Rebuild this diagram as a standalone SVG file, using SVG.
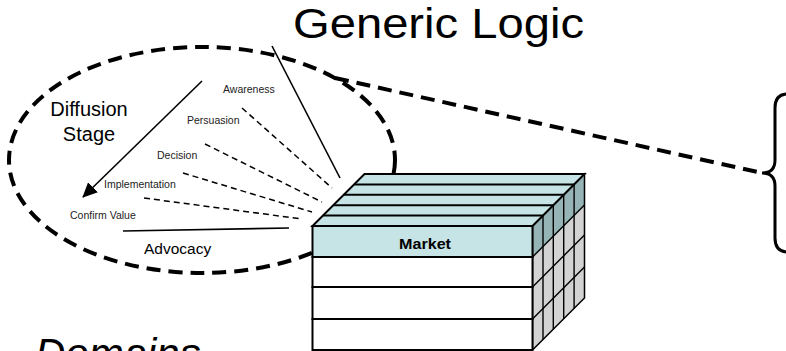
<svg xmlns="http://www.w3.org/2000/svg" width="786" height="351" viewBox="0 0 786 351">
  <defs>
    <marker id="arrowHead" viewBox="0 0 15 14" refX="14" refY="7" markerWidth="15" markerHeight="14" markerUnits="userSpaceOnUse" orient="auto">
      <path d="M0,0 L15,7 L0,14 Z" fill="#000"/>
    </marker>
  </defs>
  <style>
    text { font-family: "Liberation Sans", Arial, sans-serif; fill: #000; }
    .title { font-size: 43px; }
    .stage { font-size: 20px; }
    .step { font-size: 10.5px; fill: #222; }
    .advocacy { font-size: 15.5px; }
    .market { font-size: 14.5px; font-weight: bold; }
    .domains { font-size: 42px; font-style: italic; }
    .bigdash { fill: none; stroke: #000; stroke-width: 4; stroke-dasharray: 14 8; }
    .thindash { fill: none; stroke: #000; stroke-width: 1.5; stroke-dasharray: 6 4; }
    .solid { fill: none; stroke: #000; stroke-width: 1.6; }
    .edge { stroke: #000; stroke-width: 2; }
    .thin { stroke: #000; stroke-width: 1.4; fill: none; }
    .teal { fill: #C6E4E6; }
    .tealDark { fill: #96B4B6; }
    .grey { fill: #D3D3D3; }
  </style>

  <rect width="786" height="351" fill="#fff"/>

  <!-- Title -->
  <g id="title">
    <text class="title" x="293" y="38" textLength="291" lengthAdjust="spacingAndGlyphs">Generic Logic</text>
  </g>

  <!-- Dashed boundary of the diffusion area -->
  <g id="diffusion-area">
    <ellipse class="bigdash" cx="202" cy="160" rx="193" ry="113"/>
  </g>

  <!-- Connectors -->
  <g id="connectors">
    <line class="solid" x1="202" y1="81" x2="83" y2="197" stroke-width="2" marker-end="url(#arrowHead)"/>
    <line class="solid" x1="272" y1="46" x2="340" y2="178"/>
    <line class="thindash" x1="242" y1="108" x2="332" y2="188"/>
    <line class="thindash" x1="205" y1="144" x2="322" y2="202"/>
    <line class="thindash" x1="183" y1="173" x2="312" y2="212"/>
    <line class="thindash" x1="144" y1="198" x2="302" y2="219"/>
    <line class="solid" x1="123" y1="231" x2="289" y2="228" stroke-width="2.2"/>
    <line class="bigdash" x1="335" y1="78" x2="762" y2="173"/>
  </g>

  <!-- Stage labels -->
  <g id="stage-labels">
    <text class="stage" x="89" y="116" text-anchor="middle">Diffusion</text>
    <text class="stage" x="89" y="141" text-anchor="middle">Stage</text>
    <text class="step" x="223" y="93">Awareness</text>
    <text class="step" x="187" y="124">Persuasion</text>
    <text class="step" x="157" y="159">Decision</text>
    <text class="step" x="104" y="188">Implementation</text>
    <text class="step" x="70" y="219">Confirm Value</text>
    <text class="advocacy" x="144" y="254">Advocacy</text>
  </g>

  <!-- Market cube -->
  <g id="market-cube">
    <!-- right face -->
    <polygon class="grey" points="532.5,257 584.5,205 584.5,298 532.5,350"/>
    <polygon class="tealDark" points="532.5,226 584.5,174 584.5,205 532.5,257"/>
    <g class="thin">
      <line x1="543" y1="215.6" x2="543" y2="339.6"/>
      <line x1="553.3" y1="205.2" x2="553.3" y2="329.2"/>
      <line x1="563.7" y1="194.8" x2="563.7" y2="318.8"/>
      <line x1="574.1" y1="184.4" x2="574.1" y2="308.4"/>
      <line x1="532.5" y1="257" x2="584.5" y2="205"/>
      <line x1="532.5" y1="287" x2="584.5" y2="235"/>
      <line x1="532.5" y1="319" x2="584.5" y2="267"/>
    </g>
    <polygon points="532.5,226 584.5,174 584.5,298 532.5,350" fill="none" stroke="#000" stroke-width="1.5"/>
    <!-- top face -->
    <polygon class="teal" points="312.5,226 364.5,174 584.5,174 532.5,226" stroke="#000" stroke-width="2"/>
    <g class="edge">
      <line x1="322.9" y1="215.6" x2="542.9" y2="215.6"/>
      <line x1="333.3" y1="205.2" x2="553.3" y2="205.2"/>
      <line x1="343.7" y1="194.8" x2="563.7" y2="194.8"/>
      <line x1="354.1" y1="184.4" x2="574.1" y2="184.4"/>
    </g>
    <!-- front face -->
    <rect class="teal" x="312.5" y="226" width="220" height="31" stroke="#000" stroke-width="2"/>
    <rect x="312.5" y="257" width="220" height="30" fill="#fff" stroke="#000" stroke-width="2"/>
    <rect x="312.5" y="287" width="220" height="32" fill="#fff" stroke="#000" stroke-width="2"/>
    <rect x="312.5" y="319" width="220" height="31" fill="#fff" stroke="#000" stroke-width="2"/>
    <text class="market" x="425" y="249" text-anchor="middle" textLength="52" lengthAdjust="spacingAndGlyphs">Market</text>
  </g>

  <!-- Curly brace -->
  <g id="brace">
    <path d="M788,94 Q775,94 775,108 L775,160 Q775,173 762,173 Q775,173 775,186 L775,238 Q775,252 788,252" fill="none" stroke="#000" stroke-width="3"/>
  </g>

  <!-- Domains label, running off the lower edge -->
  <g id="domains">
    <text class="domains" x="35" y="368">Domains</text>
  </g>
</svg>
